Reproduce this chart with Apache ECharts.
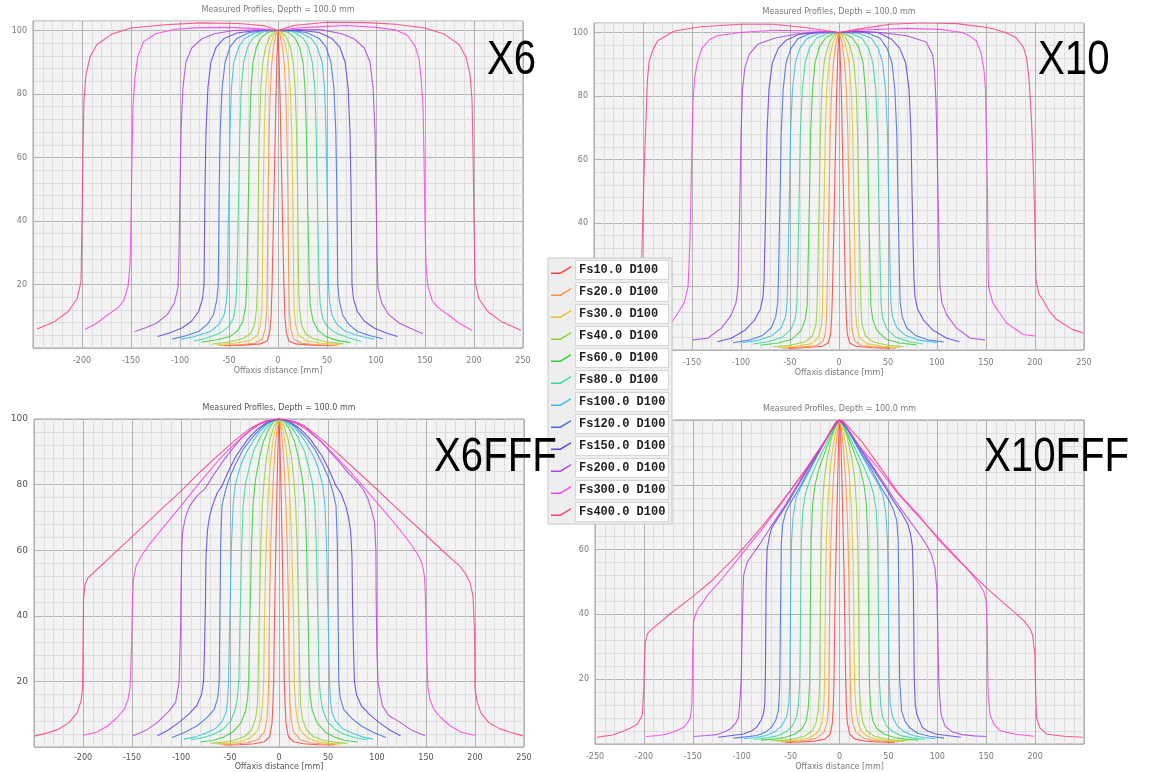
<!DOCTYPE html>
<html>
<head>
<meta charset="utf-8">
<title>Measured Profiles, Depth = 100.0 mm</title>
<script src="https://cdn.jsdelivr.net/npm/echarts@6/dist/echarts.min.js"></script>
<style>
html, body { margin: 0; padding: 0; background: #fff; }
#main { width: 1153px; height: 772px; }
</style>
</head>
<body>
<div id="main"></div>
<script>
// legend entries (one per field size) and their colours
var fieldNames = ['Fs10.0 D100', 'Fs20.0 D100', 'Fs30.0 D100', 'Fs40.0 D100', 'Fs60.0 D100', 'Fs80.0 D100',
                  'Fs100.0 D100', 'Fs120.0 D100', 'Fs150.0 D100', 'Fs200.0 D100', 'Fs300.0 D100', 'Fs400.0 D100'];
var fieldColors = ['#ff3e3e', '#ff8f3c', '#e6c21e', '#8ed12e', '#2fd22f', '#2fdb95',
                   '#2fc3e3', '#3d6fe6', '#5c3ee6', '#b13fe0', '#ff3ee6', '#ff3c84'];
var panelLabels = ['X6', 'X10', 'X6FFF', 'X10FFF'];
var chartTitle = 'Measured Profiles, Depth = 100.0 mm';
var xAxisName = 'Offaxis distance [mm]';

// profiles, flat lists: x [mm], y [%], x, y, ...
// ---- X6 ----
var x6Fs10 = [-55,0.7, -35,0.9, -18,1.3, -11,2.2, -8.5,5, -7,10, -6,20, -5,35, -4,50, -3,65, -2,80, -1,92, 0,100, 1,92, 2,80, 3,65, 4,50, 5,35, 6,20, 7,10, 8.5,5, 11,2.2, 18,1.3, 35,0.9, 56,0.7];
var x6Fs20 = [-59,0.8, -40,1, -24,1.5, -16,2.8, -13,6, -11.5,12, -11,20, -10.5,35, -10,50, -9,68, -8,80, -6.5,89, -4.5,95, -2,98.8, 0,100, 2,98.8, 4.5,95, 6.5,89, 8,80, 9,68, 10,50, 10.5,35, 11,20, 11.5,12, 13,6, 16,2.8, 24,1.5, 40,1, 60,0.8];
var x6Fs30 = [-63,1, -45,1.5, -29,2.3, -21,4, -18,7.3, -16.5,12, -16,20, -15.5,35, -15,50, -14,68, -12.5,82, -10.5,90, -8,95, -4.5,98.5, 0,100, 4.5,98.5, 8,95, 10.5,90, 12.5,82, 14,68, 15,50, 15.5,35, 16,20, 16.5,12, 18,7.3, 21,4, 29,2.3, 45,1.5, 64,1];
var x6Fs40 = [-68,1.2, -50,1.9, -36,2.9, -28,4.5, -24,7.3, -22,12, -21,20, -20.5,35, -20,50, -19,68, -17.5,82, -15.5,90, -12.5,95, -8,98.2, -3,99.7, 0,100, 3,99.7, 8,98.2, 12.5,95, 15.5,90, 17.5,82, 19,68, 20,50, 20.5,35, 21,20, 22,12, 24,7.3, 28,4.5, 36,2.9, 50,1.9, 67,1.3];
var x6Fs60 = [-78,1.9, -62,2.6, -49,3.6, -41,5.5, -36,8.3, -33,13, -32,20, -31,35, -30,50, -29,68, -27.5,82, -25.5,90, -22,94.8, -17,97.8, -10,99.5, 0,100, 10,99.5, 17,97.8, 22,94.8, 25.5,90, 27.5,82, 29,68, 30,50, 31,35, 32,20, 33,13, 36,8.3, 41,5.5, 49,3.6, 60,2.4, 74,1.7];
var x6Fs80 = [-86,2.2, -74,3, -59,4.7, -50,6.8, -45.5,9.4, -43,14, -42,20, -41,35, -40,50, -39,68, -37.5,82, -35,90, -31,94.8, -26,97.5, -17,99.4, -7,100, 0,100, 7,100, 17,99.4, 26,97.5, 31,94.8, 35,90, 37.5,82, 39,68, 40,50, 41,35, 42,20, 43,14, 45.5,9.4, 50,6.8, 59,4.7, 74,3, 85,2.1];
var x6Fs100 = [-99,2.8, -85,3.6, -69,5.2, -60,7.5, -55,10.4, -52.5,15, -51.5,20, -51,35, -50,50, -49,68, -47.5,82, -45,90, -40,94.8, -34,97.5, -23,99.3, -10,100, 0,100, 10,100, 23,99.3, 34,97.5, 40,94.8, 45,90, 47.5,82, 49,68, 50,50, 51,35, 51.5,20, 52.5,15, 55,10.4, 60,7.5, 69,5.2, 85,3.6, 98,2.8];
var x6Fs120 = [-108,2.8, -95,3.8, -81,5.2, -72,7.5, -66,10.4, -62.5,15, -61,20, -60.5,35, -60,50, -59,68, -57,82, -54,90, -49,94.8, -42,97.5, -30,99.3, -15,100, 0,100, 15,100, 30,99.3, 42,97.5, 49,94.8, 54,90, 57,82, 59,68, 60,50, 60.5,35, 61,20, 62.5,15, 66,10.4, 72,7.5, 81,5.2, 95,3.8, 107,2.9];
var x6Fs150 = [-123,3.6, -110,4.8, -98,6.3, -88,8.5, -81,11.5, -77,15.5, -75.5,20, -75,35, -74.5,50, -73.5,68, -71.5,82, -68.5,90, -63,94.8, -55,97.5, -42,99.2, -22,100, 0,100, 22,100.1, 42,99.4, 55,97.5, 63,94.8, 68.5,90, 71.5,82, 73.5,68, 74.5,50, 75,35, 75.5,20, 77,15.5, 81,11.5, 88,8.5, 98,6.3, 110,4.8, 122,3.6];
var x6Fs200 = [-146,5.2, -135,6.4, -124,7.8, -113,10.5, -106,14, -102,19, -101,30, -100,50, -99,68, -97,82, -94,90, -88,94.5, -78,97.3, -65,99, -45,100, -20,100.2, 0,100, 20,100.3, 45,100.2, 65,99, 78,97.3, 88,94.5, 94,90, 97,82, 99,68, 100,50, 101,30, 102,19, 106,14, 113,10.5, 124,7.8, 135,6.2, 148,4.5];
var x6Fs300 = [-197,5.8, -185,7.8, -174,10.4, -163,12.8, -157.5,14.8, -153,19.5, -151,26, -150,40, -149,60, -148,76, -146,85, -143,92, -137,96.5, -125,99, -105,100.4, -80,100.9, -50,101, -20,100.6, 0,100, 20,100.8, 50,101.3, 70,101.6, 100,101, 120,100.2, 132,98.5, 140,95, 144,91, 146,85, 148,76, 149,60, 150,40, 151,26, 153,19.5, 157.5,14.8, 163,12.8, 174,10.4, 185,7.8, 198,5.5];
var x6Fs400 = [-246,6, -228,8.3, -214,11.5, -205,15.5, -201,21, -200,40, -199,62, -198,78, -196,86, -192,91.5, -185,95.5, -170,98.8, -150,100.8, -115,101.8, -80,102.4, -40,102.2, -14,101.5, 0,100, 16,101.6, 50,102.6, 90,102.5, 120,102, 150,100.8, 170,98.8, 185,95.5, 192,91.5, 196,86, 198,78, 199,62, 200,40, 201,21, 205,15.5, 214,11.5, 228,8.3, 248,5.6];

// ---- X10 ----
var x10Fs10 = [-52,0.5, -32,0.8, -17,1.2, -11,2.2, -8.5,5, -7.5,10, -6.5,20, -5.5,35, -4.5,50, -3.5,65, -2.5,80, -1.2,93, 0,100, 1.2,93, 2.5,80, 3.5,65, 4.5,50, 5.5,35, 6.5,20, 7.5,10, 8.5,5, 11,2.2, 17,1.2, 32,0.8, 52,0.5];
var x10Fs20 = [-58,0.6, -38,0.9, -23,1.4, -16,2.8, -13.5,6, -12.5,12, -12,20, -11,35, -10,50, -9,68, -7.5,82, -5.5,91, -3,97, 0,100, 3,97, 5.5,91, 7.5,82, 9,68, 10,50, 11,35, 12,20, 12.5,12, 13.5,6, 16,2.8, 23,1.4, 38,0.9, 58,0.6];
var x10Fs30 = [-62,0.8, -44,1.2, -28,2, -21,4, -18,7.5, -17,12, -16.5,20, -16,35, -15,50, -14,68, -12.5,82, -10,91, -6.5,96.5, -3,99, 0,100, 3,99, 6.5,96.5, 10,91, 12.5,82, 14,68, 15,50, 16,35, 16.5,20, 17,12, 18,7.5, 21,4, 28,2, 44,1.2, 62,0.8];
var x10Fs40 = [-67,1, -50,1.5, -35,2.5, -27,4.5, -23.5,8, -22.5,13, -22,20, -21,35, -20,50, -19,68, -17.5,82, -15,91, -11,96, -6,98.8, 0,100, 6,98.8, 11,96, 15,91, 17.5,82, 19,68, 20,50, 21,35, 22,20, 22.5,13, 23.5,8, 27,4.5, 35,2.5, 50,1.5, 66,1.1];
var x10Fs60 = [-80,1.5, -62,2.2, -48,3.4, -39,6, -34.5,9.5, -32.5,14, -32,20, -31,35, -30,50, -29,68, -27,82, -24.5,90.5, -20,95.5, -13,98.5, -5,99.8, 0,100, 5,99.8, 13,98.5, 20,95.5, 24.5,90.5, 27,82, 29,68, 30,50, 31,35, 32,20, 32.5,14, 34.5,9.5, 39,6, 48,3.4, 62,2.2, 79,1.6];
var x10Fs80 = [-88,1.9, -72,2.6, -58,4, -49,6.5, -44.5,10, -43,14.5, -42.5,20, -41.5,35, -40.5,50, -39.5,68, -37.5,82, -34.5,90.5, -30,95.2, -23,98.2, -12,99.7, 0,100, 12,99.8, 23,98.3, 30,95.2, 34.5,90.5, 37.5,82, 39.5,68, 40.5,50, 41.5,35, 42.5,20, 43,14.5, 44.5,10, 49,6.5, 58,4, 72,2.6, 86,1.9];
var x10Fs100 = [-98,2.3, -82,3.1, -68,4.6, -59,7, -54.5,10.5, -53,15, -52.5,20, -51.5,35, -50.5,50, -49.5,68, -47.5,82, -44.5,90.5, -40,95, -33,98, -21,99.6, -8,100, 0,100, 8,100, 21,99.7, 33,98.2, 40,95, 44.5,90.5, 47.5,82, 49.5,68, 50.5,50, 51.5,35, 52.5,20, 53,15, 54.5,10.5, 59,7, 68,4.6, 82,3.1, 100,2.3];
var x10Fs120 = [-108,2.3, -92,3.1, -78,4.6, -69,7, -64.5,10.5, -62.5,15, -62,20, -61,35, -60,50, -59,68, -57,82, -54,90.5, -49,95, -42,98, -30,99.6, -15,100.2, 0,100, 15,100.3, 30,99.8, 42,98.2, 49,95, 54,90.5, 57,82, 59,68, 60,50, 61,35, 62,20, 62.5,15, 64.5,10.5, 69,7, 78,4.6, 92,3.1, 107,2.5];
var x10Fs150 = [-124,2.6, -110,3.7, -96,6.2, -86,9.5, -80,13, -77.5,17, -76.5,22, -75.5,35, -74.5,50, -73.5,68, -71.5,82, -68,90.5, -62,95, -54,97.6, -40,99.5, -20,100.2, 0,100, 20,100.4, 40,100, 54,97.8, 62,95, 68,90.5, 71.5,82, 73.5,68, 74.5,50, 75.5,35, 76.5,22, 77.5,17, 80,13, 86,9.5, 96,6.2, 110,3.7, 123,2.6];
var x10Fs200 = [-149,3.2, -134,3.7, -120,6.9, -110,11, -105,15, -103,20, -102,35, -101,50, -100,68, -98.5,82, -96,89, -91.5,93.2, -83,96.3, -66,98.2, -42,99.6, -20,100, 0,100, 20,100.2, 42,100, 69,99, 89,97, 95.5,93, 97.5,88, 99,78, 100,65, 101,50, 102,35, 103,20, 105,15, 110,11, 120,6.9, 134,3.7, 149,3.2];
var x10Fs300 = [-199,4.4, -188,4.9, -171,8.5, -158,14.8, -154,20, -152,35, -151,50, -150,65, -149,78, -147.5,85, -145,90, -140,95, -132,97.8, -124,99, -101,100, -67,100.7, -23,100.5, 0,100, 18,100.7, 69,101.3, 103,101, 126,100, 134,98.8, 140,97.4, 145,93.5, 148,88, 149.5,82, 150.5,65, 151.5,50, 152,35, 152.5,20, 157,14.8, 171,8.5, 188,4.9, 200,4.4];
var x10Fs400 = [-249,5.4, -238,6.5, -222,9.6, -212,13, -206,16.5, -202,21, -200.5,38, -199,55, -197,72, -195.5,85, -193.7,91, -190,94.5, -185,97.4, -168,100.5, -141,101.8, -100,102.6, -67,102.6, -33,101.5, 0,100, 18,101, 52,102.6, 86,103.1, 120,102.8, 153,101.5, 170,100, 180.6,98.4, 188,95.5, 191.5,92, 194,85, 196.5,72, 198.5,55, 200,38, 201,22, 204,17.5, 208,15.9, 214,12.5, 222,9.6, 238,6.5, 249,5.4];

// ---- X6 FFF ----
var x6fffFs10 = [-56,0.6, -40,0.7, -25,1, -15,1.6, -9.5,3.2, -7.2,7, -6.2,13, -5.4,20, -4.8,35, -4,48, -3.2,62, -2.4,74, -1.5,86, -0.7,95, 0,100, 0.7,95, 1.5,86, 2.4,74, 3.2,62, 4,48, 4.8,35, 5.4,20, 6.2,13, 7.2,7, 9.5,3.2, 15,1.6, 25,1, 40,0.7, 56,0.6];
var x6fffFs20 = [-59,0.7, -45,0.9, -33,1.2, -22,2.2, -15,4.5, -12.5,8, -11.3,13, -10.5,20, -10,35, -9.3,48, -8.3,62, -7,74, -5.5,84, -4,91, -2,97, 0,100, 2,97, 4,91, 5.5,84, 7,74, 8.3,62, 9.3,48, 10,35, 10.5,20, 11.3,13, 12.5,8, 15,4.5, 22,2.2, 33,1.2, 45,0.9, 59,0.7];
var x6fffFs30 = [-64,0.9, -52,1.1, -40,1.6, -29,2.8, -22,5, -18.5,8.5, -16.8,13, -15.6,20, -15,35, -14.2,48, -13,62, -11.5,74, -10,82, -8,89, -5.5,94.5, -2.5,98.5, 0,100, 2.5,98.5, 5.5,94.5, 8,89, 10,82, 11.5,74, 13,62, 14.2,48, 15,35, 15.6,20, 16.8,13, 18.5,8.5, 22,5, 29,2.8, 40,1.6, 52,1.1, 64,0.9];
var x6fffFs40 = [-69,1.1, -58,1.4, -46,2, -35,3.2, -28,5.2, -24,8.5, -22,13, -21.3,20, -20.5,35, -19.5,48, -18.5,62, -17,74, -15,82, -12.7,88.5, -9,94, -5,98, 0,100, 5,98, 9,94, 12.7,88.5, 15,82, 17,74, 18.5,62, 19.5,48, 20.5,35, 21.3,20, 22,13, 24,8.5, 28,5.2, 35,3.2, 46,2, 58,1.4, 69,1.1];
var x6fffFs60 = [-80,1.5, -68,2, -57,3, -47,4.6, -39,7.3, -34,11, -32,15, -31,20, -30,35, -29,48, -28,62, -26.5,74, -24,81.5, -20,88, -16,93, -10,97.3, -5,99.3, 0,100, 5,99.3, 10,97.3, 16,93, 20,88, 24,81.5, 26.5,74, 28,62, 29,48, 30,35, 31,20, 32,15, 34,11, 39,7.3, 47,4.6, 57,3, 68,2, 80,1.5];
var x6fffFs80 = [-90,2.2, -78,2.8, -67,3.8, -57,5.4, -49,8, -44.5,11.5, -42.5,15, -41,20, -40,35, -39,48, -38,62, -36.5,74, -34,80.5, -30.5,85, -26.3,90, -20,94, -14,97, -7,99.3, 0,100, 7,99.3, 14,97, 20,94, 26.3,90, 30.5,85, 34,80.5, 36.5,74, 38,62, 39,48, 40,35, 41,20, 42.5,15, 44.5,11.5, 49,8, 57,5.4, 67,3.8, 78,2.8, 90,2.2];
var x6fffFs100 = [-97,2.4, -86,3, -75,4.2, -65,5.6, -58,7.8, -54,10.5, -52.5,14, -51.5,20, -50.5,35, -49.5,48, -48.5,62, -46.8,74, -44.5,80, -40,85, -36,88.2, -32.8,90, -26,93.5, -20,96, -13,98.2, -6,99.5, 0,100, 6,99.5, 13,98.2, 20,96, 26,93.5, 32.8,90, 36,88.2, 40,85, 44.5,80, 46.8,74, 48.5,62, 49.5,48, 50.5,35, 51.5,20, 52.5,14, 54,10.5, 58,7.8, 65,5.6, 75,4.2, 86,3, 96,2.4];
var x6fffFs120 = [-109,2.9, -96,4.5, -84,6.4, -74,8.8, -66,11.5, -62.5,15, -61,20, -60.5,35, -60,48, -59.5,62, -58.2,73.5, -55,77.8, -51,81.7, -44,86.5, -36.4,90.8, -27,94.5, -18,97.4, -9,99.3, 0,100, 9,99.3, 18,97.4, 27,94.5, 36.4,90.8, 44,86.5, 51,81.7, 55,77.8, 58.2,73.5, 59.5,62, 60,48, 60.5,35, 61,20, 62.5,15, 66,11.5, 74,8.8, 84,6.4, 96,4.5, 109,2.9];
var x6fffFs150 = [-124,3.4, -113,5.2, -102,7.5, -92,10, -84,12.6, -79,16, -77,20, -76,30, -75,45, -74.5,58, -73,66, -71,70, -68,73.5, -63,77.5, -58.2,79.6, -51,84.5, -43.7,88.8, -32,93.8, -22,96.9, -12,99, 0,100, 12,99, 22,96.9, 32,93.8, 43.7,88.8, 51,84.5, 58.2,79.6, 63,77.5, 68,73.5, 71,70, 73,66, 74.5,58, 75,45, 76,30, 77,20, 79,16, 84,12.6, 92,10, 102,7.5, 113,5.2, 124,3.4];
var x6fffFs200 = [-149,3.4, -136,5, -124,7.5, -112,11, -105.5,13.6, -102,19.7, -100.5,35, -100,48, -99,62, -98,66.3, -95,70.5, -91,73.5, -84,76.5, -76,78.6, -67,82.8, -58,86.8, -46,91.5, -36,94.9, -25,97.6, -14.6,99.3, 0,100, 14.6,99.3, 25.5,98, 34,95.5, 43.6,93, 52,90, 61.8,86.8, 70,83.8, 80,80.7, 86,78.5, 90.9,75.6, 94.5,72, 97.5,68.5, 98.9,60, 99.2,45, 99.8,30, 101.1,19.7, 105.4,12.6, 112,9.6, 123.6,7.5, 136,5, 149,3.4];
var x6fffFs300 = [-200,3.6, -186,4.5, -175,6.4, -165,9, -158,11.5, -154,14.5, -152,18, -150.5,30, -149.5,45, -148.5,51, -146,55, -141,58, -133,61.5, -120,66.3, -100,73.5, -80,81, -60,88, -45,92.5, -30,96.3, -20,98.3, -10,99.5, 0,100, 10,99.5, 20,98.3, 30,96.3, 45,92.5, 60,88, 80,81.5, 100,74.5, 120,67.5, 133,62.5, 141,59, 146,56, 148.5,52, 149.5,45, 150.5,30, 152,18, 154,14.5, 158,11.5, 165,9, 175,6.4, 186,4.5, 200,3.6];
var x6fffFs400 = [-249,3.4, -236,4.3, -225,5.4, -214,7.5, -206,10.4, -202,14, -200.5,18, -200,30, -199.5,45, -198,49.5, -195,51.5, -188,53.5, -170,58.5, -145,65.5, -120,72.5, -100,78, -80,84, -60,89.5, -45,93.5, -30,97, -20,98.6, -10,99.6, 0,100, 10,99.6, 20,98.6, 30,97, 45,93.5, 60,89.5, 80,84, 100,78.5, 120,72.8, 145,66, 170,59, 185,55, 191,52.5, 195,50, 198,46, 199.5,35, 200,18, 202,14, 206,10.4, 214,7.5, 225,5.6, 236,4.5, 249,3.4];

// ---- X10 FFF ----
var x10fffFs10 = [-55,0.5, -40,0.6, -25,0.9, -15,1.5, -9.5,3, -7.3,6.5, -6.3,12, -5.6,20, -5,35, -4.2,50, -3.3,63, -2.4,75, -1.5,86, -0.6,96, 0,100, 1.2,96, 2.1,86, 3,75, 3.9,63, 4.8,50, 5.6,35, 6.3,20, 7,12, 8,6.5, 10.5,3, 16,1.5, 26,0.9, 41,0.6, 56,0.5];
var x10fffFs20 = [-59,0.6, -46,0.8, -34,1.1, -24,1.8, -16,3.5, -12.8,6.5, -11.5,10.5, -11,15, -10.8,20, -10.3,35, -9.6,50, -8.7,63, -7.5,74, -6,83, -4,91, -2,97, 0,100, 2,97, 4,91, 6,83, 7.5,74, 8.7,63, 9.6,50, 10.3,35, 11,20, 11.5,15, 12,10.5, 13.5,6.5, 17,3.5, 25,1.8, 35,1.1, 47,0.8, 60,0.6];
var x10fffFs30 = [-64,0.8, -52,1, -40,1.3, -30,2, -22,3.7, -18,6.5, -16.3,10.5, -15.6,15, -15.2,20, -14.7,35, -14.2,50, -13.4,63, -12,74, -10,83, -7.5,90, -4.5,95.5, -1.5,99.3, 0,100, 1.5,99.3, 4.5,95.5, 7.5,90, 10,83, 12,74, 13.4,63, 14.2,50, 14.8,35, 15.4,20, 16,15, 17,10.5, 19,6.5, 23,3.7, 31,2, 41,1.3, 53,1, 65,0.8];
var x10fffFs40 = [-69,1, -57,1.2, -46,1.6, -36,2.4, -28,4, -24,6.5, -21.8,10.5, -20.8,15, -20.2,20, -19.8,35, -19.3,50, -18.6,63, -17.3,74, -15.5,82, -12.5,88.5, -8,94.5, -3,99, 0,100, 3,99, 8,94.5, 12.5,88.5, 15.5,82, 17.3,74, 18.6,63, 19.3,50, 19.8,35, 20.2,20, 20.8,15, 21.8,10.5, 24,6.5, 28,4, 36,2.4, 46,1.6, 57,1.2, 69,1];
var x10fffFs60 = [-80,1.2, -67,1.5, -56,2, -46,3, -38,4.8, -34,7.2, -32,11, -31,16, -30.4,20, -30,35, -29.5,50, -29,63, -27.5,74, -25,80, -21,85, -15,90, -8,95.5, -3,99, 0,100, 3,99, 8,95.5, 15,90, 21,85, 25,80, 27.5,74, 29,63, 29.5,50, 30,35, 30.5,20, 31,16, 32,11, 34,7.2, 38,4.8, 46,3, 56,2, 67,1.5, 80,1.2];
var x10fffFs80 = [-88,1.4, -76,1.8, -64,2.5, -55,3.7, -48,5.6, -44,8.3, -42,12, -41,17, -40.6,20, -40,35, -39.5,50, -39,63, -37.5,72, -35,77, -31,81, -25,85.5, -17,90.5, -9,95.5, -3,99, 0,100, 3,99, 9,95.5, 17,90.5, 25,85.5, 31,81, 35,77, 37.5,72, 39,63, 39.5,50, 40,35, 40.8,20, 41.2,17, 42.2,12, 44,8.3, 48,5.6, 55,3.7, 64,2.5, 76,1.8, 88,1.4];
var x10fffFs100 = [-98,1.6, -86,2, -75,2.6, -66,3.8, -59,5.6, -54,8.5, -52,12, -51.2,17, -50.8,20, -50.3,35, -49.8,50, -49,63, -47.5,70, -44.6,75.7, -40,79, -32,83.5, -22,89.5, -12,95, -4,99, 0,100, 4,99, 12,95, 22,89.5, 32,84, 40,80, 44.6,76.5, 47.5,71, 49,63, 49.8,50, 50.3,35, 50.8,20, 51.2,17, 52,12, 54,8.5, 59,5.6, 66,3.8, 75,2.6, 86,2, 98,1.6];
var x10fffFs120 = [-108.3,1.8, -96,2.2, -84.6,2.6, -76,3.6, -69.4,5.2, -65,7.5, -62.6,10.2, -61.5,15, -61,20, -60.5,35, -60,50, -59.5,62, -58,68, -55,71.5, -50,74.5, -42,78.5, -32,84, -20,90.5, -9,96.5, 0,100, 9,96.8, 20,91, 32,85, 42,79.5, 50,75.5, 55,72.5, 58.5,69, 60,63, 60.5,50, 61,35, 61.5,20, 62.5,15, 63.5,10.2, 67,7, 72,5, 80,3.3, 92,2.4, 107,1.8];
var x10fffFs150 = [-124,2.1, -110,2.6, -98.2,3.1, -90,4, -84.6,5.2, -80,7.5, -77.9,9.2, -76.5,12, -75.8,20, -75.4,35, -75,50, -74,60, -71.5,64.4, -69.6,66.5, -63,69.8, -56.2,72.8, -45,78.5, -32,85, -18,92, -7,97.5, 0,100, 7,97.8, 18,92.5, 32,86, 45,80, 56.2,74.5, 63,71.5, 69.6,68, 72.5,65, 74.5,61, 75.5,50, 76,35, 76.4,20, 77.5,12, 79,9.2, 84.6,5.2, 90,4, 98.2,3.1, 110,2.6, 124,2.1];
var x10fffFs200 = [-149,2.3, -136,2.6, -125.3,2.9, -118,3.7, -111.7,4.6, -106,6.5, -103.2,8.2, -101.6,14.3, -100.5,20, -99.5,35, -98.5,48, -98,52.1, -94.2,56.2, -89,58.5, -84.6,60.3, -77,63.8, -69.2,67.5, -55,74, -40,81.5, -25,89, -12,95, -4,99, 0,100, 4,99.3, 12,95.5, 25,89.8, 40,83, 55,76, 69,70, 80,65.5, 88,62, 94,58.5, 97.5,54.5, 99.5,48, 100.5,35, 101.5,20, 102.5,14.3, 104,9, 108,5.5, 115,3.8, 125,2.9, 138,2.5, 150,2.3];
var x10fffFs300 = [-198,2.3, -185,2.6, -176,3.1, -166,4.2, -159,5.2, -154.5,7, -152.5,8.2, -151,12, -150.8,14.3, -150.5,20, -150,30, -149.2,37.9, -146.5,40.5, -144.2,42, -139,44, -134.6,46.1, -120,51, -100,58.5, -80,66, -60,74, -40,82.5, -20,91, -5,98.6, 0,100, 5,99, 20,92, 40,85, 60,77.2, 80,70.5, 100,64, 120,57.5, 135,52.5, 143,49.3, 147.5,47, 150,44, 151,37, 151.5,25, 152,15, 154,9, 158,6, 165,4, 180,3, 199,2.4];
var x10fffFs400 = [-248,2.1, -232,2.8, -220,4.1, -212,5.2, -206.7,6.2, -203,8.1, -201.6,9.2, -200.6,14.3, -200,17.4, -199.5,25, -198.5,31.7, -196,34.2, -192,35.4, -173,40.2, -150,45.5, -131,50.3, -104,58.5, -81,66.5, -61.5,73.8, -38.4,83, -15,93.3, -4,99.3, 0,100, 4,99.6, 23.4,93.1, 42.7,85, 60,77.5, 81.2,70.6, 100,63.5, 119.7,57.3, 150.5,48.1, 169.8,43, 189,37.9, 195,35.5, 197.5,33.5, 199.8,27.6, 200.5,17, 201.4,8.1, 205,5, 212.1,3, 230,2.4, 248.6,2.1];

var x6Profiles = [x6Fs10, x6Fs20, x6Fs30, x6Fs40, x6Fs60, x6Fs80, x6Fs100, x6Fs120, x6Fs150, x6Fs200, x6Fs300, x6Fs400];
var x10Profiles = [x10Fs10, x10Fs20, x10Fs30, x10Fs40, x10Fs60, x10Fs80, x10Fs100, x10Fs120, x10Fs150, x10Fs200, x10Fs300, x10Fs400];
var x6fffProfiles = [x6fffFs10, x6fffFs20, x6fffFs30, x6fffFs40, x6fffFs60, x6fffFs80, x6fffFs100, x6fffFs120, x6fffFs150, x6fffFs200, x6fffFs300, x6fffFs400];
var x10fffProfiles = [x10fffFs10, x10fffFs20, x10fffFs30, x10fffFs40, x10fffFs60, x10fffFs80, x10fffFs100, x10fffFs120, x10fffFs150, x10fffFs200, x10fffFs300, x10fffFs400];

// layout of the four plots (pixels) and their axis ranges
var panels = [
	{ profiles: x6Profiles,     left: 33,  top: 21,  width: 490, height: 327, yMax: 103, labelX: 487, labelY: 60,  titleY: 10,  crisp: false, showMin: false, showMax: true },
	{ profiles: x10Profiles,    left: 594, top: 23,  width: 490, height: 327, yMax: 103, labelX: 1038, labelY: 60, titleY: 12,  crisp: false, showMin: false, showMax: true },
	{ profiles: x6fffProfiles,  left: 34,  top: 419, width: 490, height: 328, yMax: 100, labelX: 434, labelY: 457, titleY: 408, crisp: true,  showMin: false, showMax: true },
	{ profiles: x10fffProfiles, left: 595, top: 420, width: 489, height: 327, yMax: 100, labelX: 984, labelY: 457, titleY: 409, crisp: false, showMin: true,  showMax: false }
];

function toPairs(flat) {
	var pts = [];
	for (var i = 0; i < flat.length; i += 2) {
		pts.push([flat[i], flat[i + 1]]);
	}
	return pts;
}

var majorColor = '#b3b3b3';
var minorColor = '#dedede';
// every 5th grid line is a major one
var gridLineColors = [majorColor, minorColor, minorColor, minorColor, minorColor];

var grids = [], xAxes = [], yAxes = [], series = [], graphics = [];

panels.forEach(function (p, i) {
	var labelColor = p.crisp ? '#555' : '#7a7a7a';
	var labelSize = p.crisp ? 9 : 8;

	grids.push({
		left: p.left, top: p.top, width: p.width, height: p.height,
		show: true, backgroundColor: '#f3f3f3', borderColor: '#a2a2a2', borderWidth: 1
	});

	xAxes.push({
		gridIndex: i, type: 'value', min: -250, max: 250, interval: 10,
		name: xAxisName, nameLocation: 'middle', nameGap: p.crisp ? 16 : 19,
		nameTextStyle: { fontFamily: 'DejaVu Sans', fontSize: 8, color: labelColor },
		axisLine: { show: false }, axisTick: { show: false },
		axisLabel: {
			fontFamily: 'DejaVu Sans', fontSize: 8, color: labelColor, margin: p.crisp ? 7 : 9,
			showMinLabel: p.showMin, showMaxLabel: p.showMax,
			formatter: function (v) { return v % 50 === 0 ? String(v) : ''; }
		},
		splitLine: { show: true, lineStyle: { color: gridLineColors, width: 1 } }
	});

	yAxes.push({
		gridIndex: i, type: 'value', min: 0, max: p.yMax, interval: 4,
		axisLine: { show: false }, axisTick: { show: false },
		axisLabel: {
			fontFamily: 'DejaVu Sans', fontSize: labelSize, color: labelColor, margin: 6,
			formatter: function (v) { return (v > 0 && v % 20 === 0) ? String(v) : ''; }
		},
		splitLine: { show: true, lineStyle: { color: gridLineColors, width: 1 } }
	});

	p.profiles.forEach(function (flat, k) {
		series.push({
			type: 'line', name: fieldNames[k],
			xAxisIndex: i, yAxisIndex: i,
			data: toPairs(flat),
			showSymbol: false, symbol: 'none',
			lineStyle: { color: fieldColors[k], width: 1.1, opacity: 0.85 },
			itemStyle: { color: fieldColors[k] },
			emphasis: { disabled: true },
			z: 2 + k / 100
		});
	});

	graphics.push({
		type: 'text', x: p.left + p.width / 2, y: p.titleY, z: 50,
		style: {
			text: chartTitle, fill: labelColor, font: '8px "DejaVu Sans", sans-serif',
			textAlign: 'center', textVerticalAlign: 'middle', align: 'center', verticalAlign: 'middle'
		}
	});
	// big beam label, narrowed to match the condensed face of the picture
	graphics.push({
		type: 'text', x: p.labelX, y: p.labelY, z: 100, scaleX: 0.82,
		style: {
			text: panelLabels[i], fill: '#000',
			font: '49px "Liberation Sans", Arial, sans-serif',
			textAlign: 'left', textVerticalAlign: 'middle', align: 'left', verticalAlign: 'middle'
		}
	});
});

var chartOption = {
	backgroundColor: '#fff',
	animation: false,
	grid: grids,
	xAxis: xAxes,
	yAxis: yAxes,
	legend: {
		data: fieldNames,
		orient: 'vertical',
		left: 548, top: 258,
		padding: [2, 3],
		itemGap: 2,
		itemWidth: 20, itemHeight: 9,
		icon: 'path://M0,8.6 L9,8.6 L20,2 L20,3.6 L9.5,10 L0,10 Z',
		itemStyle: { borderWidth: 0 },
		backgroundColor: '#eeeeee',
		borderColor: '#c9c9c9', borderWidth: 1,
		selectedMode: false,
		z: 20,
		textStyle: {
			fontFamily: '"Liberation Mono", "DejaVu Sans Mono", monospace',
			fontWeight: 'bold', fontSize: 12, color: '#222',
			backgroundColor: '#fff', borderColor: '#d6d6d6', borderWidth: 1,
			width: 86, height: 16, lineHeight: 16, padding: [1, 3]
		}
	},
	series: series,
	graphic: graphics
};

var myChart = echarts.init(document.getElementById('main'));
myChart.setOption(chartOption);
</script>
</body>
</html>
